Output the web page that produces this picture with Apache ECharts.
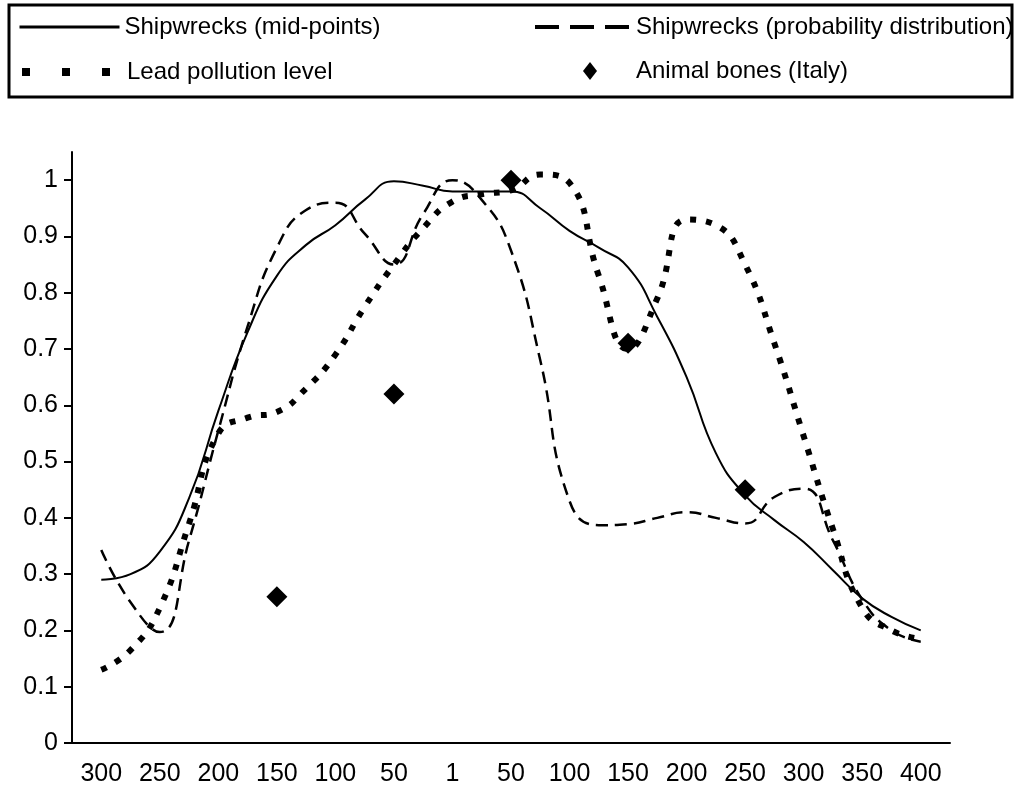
<!DOCTYPE html>
<html>
<head>
<meta charset="utf-8">
<script src="https://cdn.jsdelivr.net/npm/echarts@6/dist/echarts.min.js"></script>
<style>
  html, body { margin: 0; padding: 0; background: #fff; }
  #chart { width: 1021px; height: 794px; }
</style>
</head>
<body>
<div id="chart"></div>
<script>
// x axis labels, 300 BC ... 1 ... 400 AD
const categories = ['300', '250', '200', '150', '100', '50', '1', '50', '100', '150', '200', '250', '300', '350', '400'];
const yTicks = [0, 0.1, 0.2, 0.3, 0.4, 0.5, 0.6, 0.7, 0.8, 0.9, 1];

// curves read every 25 years (negative = BC)
const years = [-300, -275, -250, -225, -200, -175, -150, -125, -100, -75, -50, -25, 0, 25, 50,
  75, 100, 125, 150, 175, 200, 225, 250, 275, 300, 325, 350, 375, 400];
const midPoints = [0.29, 0.30, 0.34, 0.435, 0.59, 0.73, 0.83, 0.885, 0.92, 0.965, 0.998, 0.99, 0.98, 0.98, 0.98,
  0.95, 0.91, 0.88, 0.845, 0.757, 0.65, 0.515, 0.44, 0.396, 0.357, 0.307, 0.257, 0.224, 0.20];
const probDist = [0.343, 0.25, 0.197, 0.36, 0.555, 0.74, 0.88, 0.947, 0.96, 0.905, 0.85, 0.94, 1.0, 0.965, 0.875,
  0.68, 0.43, 0.387, 0.389, 0.40, 0.41, 0.40, 0.39, 0.437, 0.452, 0.36, 0.255, 0.20, 0.18];
const leadLevel = [0.13, 0.165, 0.24, 0.39, 0.55, 0.578, 0.588, 0.63, 0.69, 0.775, 0.85, 0.915, 0.962, 0.975, 0.982,
  1.01, 0.995, 0.83, 0.70, 0.79, 0.93, 0.92, 0.85, 0.71, 0.545, 0.38, 0.24, 0.20, 0.185];

// animal bones (Italy)
const boneYears = [-150, -50, 50, 150, 250];
const boneValues = [0.26, 0.62, 1.0, 0.71, 0.45];

const FONT = '"Liberation Sans", Arial, sans-serif';
const pairs = (xs, ys) => xs.map((x, i) => [x, ys[i]]);

const chart = echarts.init(document.getElementById('chart'));

const legendText = { fontFamily: FONT, fontSize: 24, color: '#000', lineHeight: 26 };

chart.setOption({
  animation: false,
  backgroundColor: '#fff',
  graphic: [{
    type: 'rect',
    shape: { x: 9, y: 5, width: 1003, height: 92 },
    style: { fill: 'none', stroke: '#000', lineWidth: 3 }
  }],
  legend: [
    {
      data: ['Shipwrecks (mid-points)'], left: 18, top: 14, padding: 0, selectedMode: false,
      itemWidth: 100, itemHeight: 14, itemStyle: { opacity: 0 },
      lineStyle: { width: 3, type: 'solid' }, textStyle: legendText
    },
    {
      data: ['Shipwrecks (probability distribution)'], left: 533, top: 14, padding: 0, selectedMode: false,
      itemWidth: 96, itemHeight: 14, itemStyle: { opacity: 0 },
      lineStyle: { width: 4, type: [24, 11] }, textStyle: legendText
    },
    {
      data: ['Lead pollution level'], left: 18, top: 59, padding: 0, selectedMode: false,
      itemWidth: 100, itemHeight: 14, itemStyle: { opacity: 0 },
      lineStyle: { width: 8, type: [8, 32] }, textStyle: legendText
    },
    {
      data: ['Animal bones (Italy)'], left: 583, top: 58, padding: 0, selectedMode: false,
      itemWidth: 14, itemHeight: 18, symbolKeepAspect: false, itemStyle: { opacity: 1 },
      textStyle: Object.assign({}, legendText, { padding: [0, 0, 0, 34] })
    }
  ],
  grid: { left: 72, right: 71, top: 152, bottom: 51, containLabel: false },
  xAxis: [
    {
      type: 'category',
      data: categories,
      boundaryGap: true,
      axisLine: { lineStyle: { color: '#000', width: 2 } },
      axisTick: { length: 9, lineStyle: { color: '#000', width: 2 } },
      axisLabel: { color: '#000', fontFamily: FONT, fontSize: 25, margin: 19, interval: 0 },
      splitLine: { show: false }
    },
    { type: 'value', min: -325, max: 425, show: false }
  ],
  yAxis: {
    type: 'value',
    min: 0,
    max: 1.05,
    interval: 0.1,
    axisLine: { show: true, onZero: false, lineStyle: { color: '#000', width: 2 } },
    axisTick: { show: true, length: 8, customValues: yTicks, lineStyle: { color: '#000', width: 2 } },
    axisLabel: { color: '#000', fontFamily: FONT, fontSize: 25, margin: 14, customValues: yTicks },
    splitLine: { show: false }
  },
  series: [
    {
      name: 'Shipwrecks (mid-points)', type: 'line', xAxisIndex: 1,
      data: pairs(years, midPoints), smooth: 0.5, symbol: 'none',
      lineStyle: { color: '#000', width: 2 }, itemStyle: { color: '#000' }
    },
    {
      name: 'Shipwrecks (probability distribution)', type: 'line', xAxisIndex: 1,
      data: pairs(years, probDist), smooth: 0.5, symbol: 'none',
      lineStyle: { color: '#000', width: 2.5, type: [12, 7] }, itemStyle: { color: '#000' }
    },
    {
      name: 'Lead pollution level', type: 'line', xAxisIndex: 1,
      data: pairs(years, leadLevel), smooth: 0.5, symbol: 'none',
      lineStyle: { color: '#000', width: 6, type: [6, 10], cap: 'butt' }, itemStyle: { color: '#000' }
    },
    {
      name: 'Animal bones (Italy)', type: 'scatter', xAxisIndex: 1,
      data: pairs(boneYears, boneValues), symbol: 'diamond', symbolSize: 21,
      itemStyle: { color: '#000', opacity: 1 }, z: 5
    }
  ]
});
</script>
</body>
</html>
